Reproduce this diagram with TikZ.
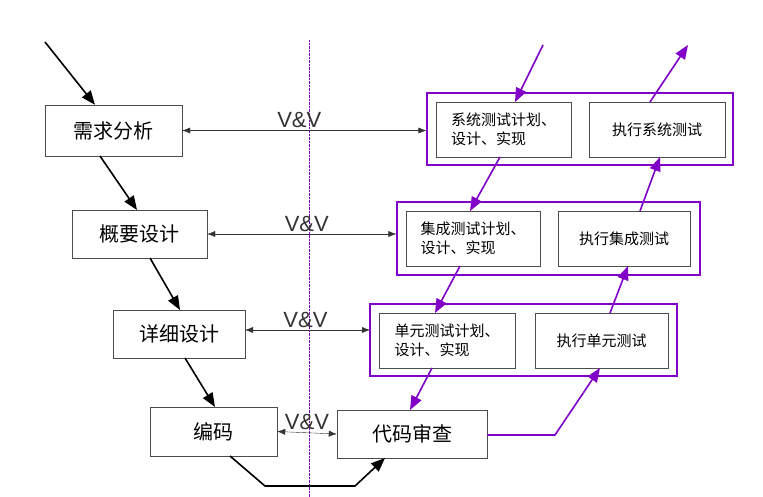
\documentclass[tikz,border=0pt]{standalone}
\usepackage{fontspec}
\setmainfont{Liberation Sans}
\newfontfamily\cjk{Noto Sans CJK SC}
\usetikzlibrary{arrows.meta}
\definecolor{pv}{RGB}{128,0,200}
\begin{document}
\begin{tikzpicture}[x=1pt,y=-1pt,
  bigbox/.style={draw=black!70,fill=white,inner sep=0pt,font=\cjk\fontsize{20}{22}\selectfont},
  smallbox/.style={draw=black!70,fill=white,inner sep=0pt,font=\cjk\fontsize{15}{19}\selectfont,align=left},
  grp/.style={draw=pv,line width=1.3pt},
  blk/.style={-{Triangle[length=14pt,width=11pt]},line width=1.6pt},
  pur/.style={-{Triangle[length=14pt,width=11pt]},line width=1.6pt,pv},
  vv/.style={{Latex[length=8pt,width=6pt]}-{Latex[length=8pt,width=6pt]},black!80},
  vvl/.style={font=\fontsize{22}{24}\selectfont}]
\useasboundingbox (0,0) rectangle (763,497);
\draw[pv,densely dotted] (309,40) -- (309,497);
% left boxes
\node[bigbox,minimum width=137pt,minimum height=51pt] (a) at (113.5,130.5) {需求分析};
\node[bigbox,minimum width=135pt,minimum height=48pt] (b) at (139.5,234) {概要设计};
\node[bigbox,minimum width=132pt,minimum height=48pt] (c) at (179,334) {详细设计};
\node[bigbox,minimum width=127pt,minimum height=49pt] (d) at (213.5,431.5) {编码};
\node[bigbox,minimum width=150pt,minimum height=48pt] (e) at (412,434) {代码审查};
% groups
\node[grp,minimum width=306pt,minimum height=72pt] (g1) at (580,129) {};
\node[grp,minimum width=303pt,minimum height=73pt] (g2) at (548.5,238.5) {};
\node[grp,minimum width=307pt,minimum height=72pt] (g3) at (523.5,340) {};
\node[smallbox,minimum width=135pt,minimum height=55pt] (s1) at (503.5,129.5) {系统测试计划、\\设计、实现};
\node[smallbox,minimum width=136pt,minimum height=55pt] (x1) at (657,129.5) {执行系统测试};
\node[smallbox,minimum width=134pt,minimum height=55pt] (s2) at (473,238.5) {集成测试计划、\\设计、实现};
\node[smallbox,minimum width=132pt,minimum height=55pt] (x2) at (624,238.5) {执行集成测试};
\node[smallbox,minimum width=136pt,minimum height=55pt] (s3) at (447,340.5) {单元测试计划、\\设计、实现};
\node[smallbox,minimum width=133pt,minimum height=55pt] (x3) at (601.5,340.5) {执行单元测试};
% black flow
\coordinate (st) at (45,42);
\draw[blk] (st) -- (a.north west -| 95,0);
\draw[blk] (100,156) -- (137,210);
\draw[blk] (150,258) -- (180,310);
\draw[blk] (185,358) -- (215,407);
\coordinate (p1) at (265,486); \coordinate (p2) at (355,486);
\draw[blk] (230,456) -- (p1) -- (p2) -- (385,458);
% V&V
\draw[vv] (a.east) -- (g1.west |- a.east) node[vvl,midway,above=-1pt,xshift=-5pt] {V\&V};
\draw[vv] (b.east) -- (g2.west |- b.east) node[vvl,midway,above=-1pt,xshift=5pt] {V\&V};
\draw[vv] (245,330) -- (370,330) node[vvl,midway,above=-1pt,xshift=-2pt] {V\&V};
\draw[vv] (d.east) -- (e.west) node[vvl,midway,above=0pt] {V\&V};
% purple flow
\coordinate (t1) at (543,45); \coordinate (t2) at (688,45);
\draw[pur] (t1) -- (515,102);
\draw[pur] (500,157) -- (470,211);
\draw[pur] (460,266) -- (435,313);
\draw[pur] (432,368) -- (410,410);
\coordinate (q) at (555,435);
\draw[pur] (e.east |- q) -- (q) -- (600,368);
\draw[pur] (610,313) -- (628,266);
\draw[pur] (640,211) -- (660,157);
\draw[pur] (650,102) -- (t2);
\end{tikzpicture}
\end{document}
